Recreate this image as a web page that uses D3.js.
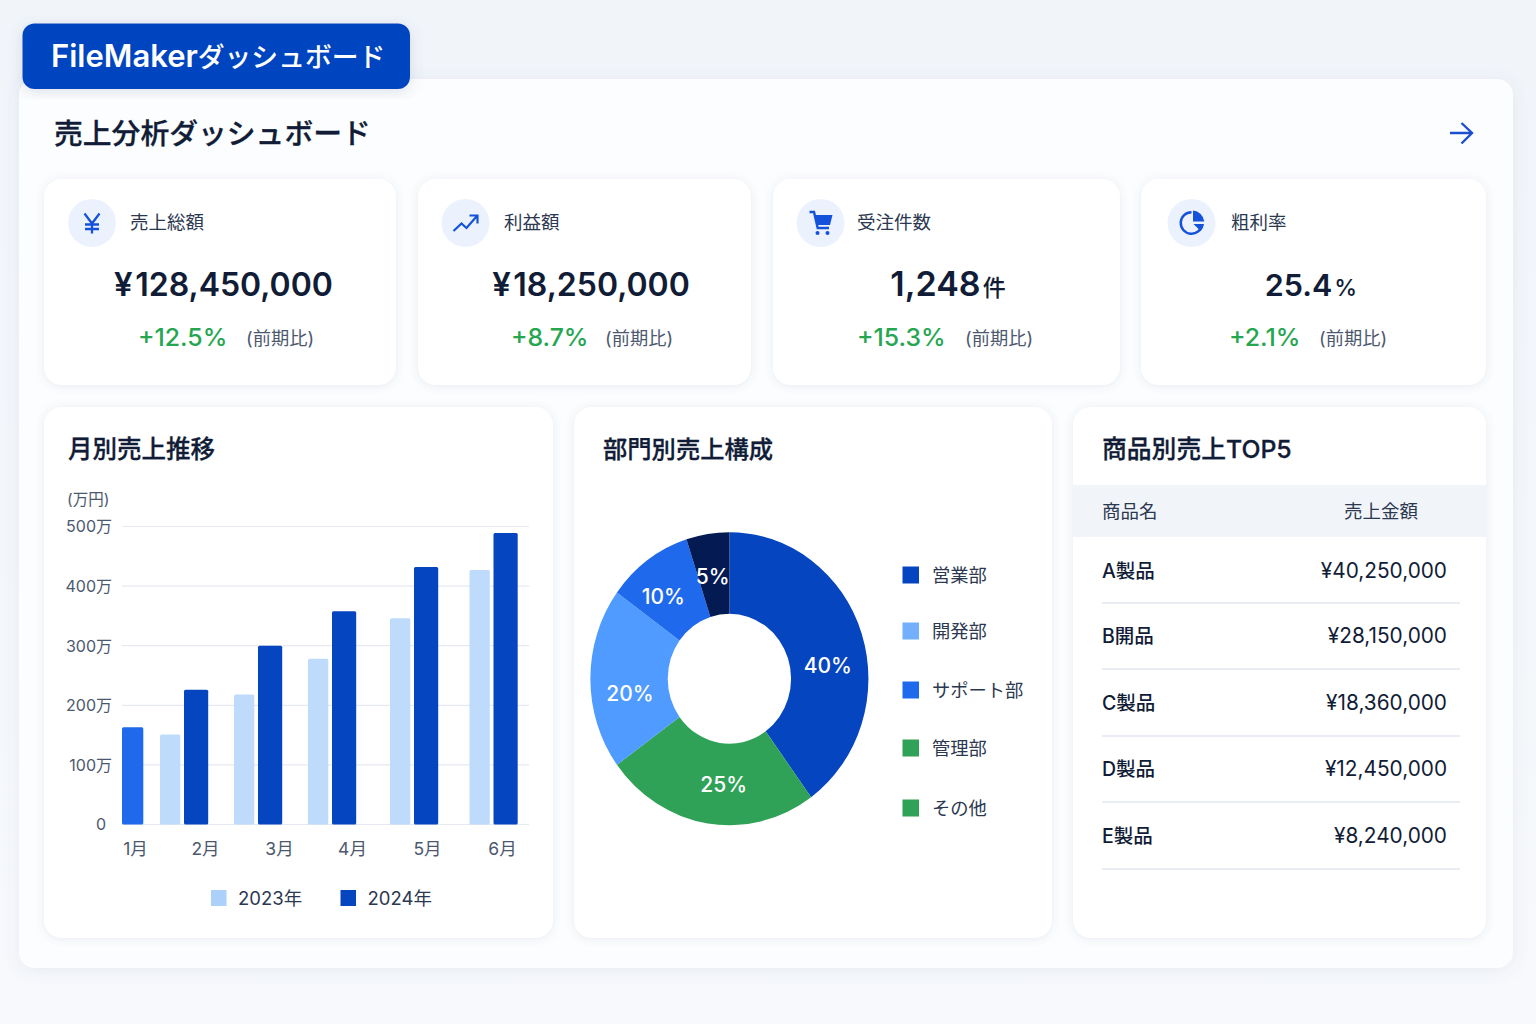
<!DOCTYPE html>
<html lang="ja">
<head>
<meta charset="utf-8">
<title>FileMakerダッシュボード</title>
<script src="https://cdn.jsdelivr.net/npm/d3@7/dist/d3.min.js"></script>
<style>
  html, body { margin: 0; padding: 0; background: #f4f7fb; }
  svg { display: block; }
  text { font-family: Inter, "Noto Sans CJK JP", sans-serif; }
</style>
</head>
<body>
<svg id="board" width="1536" height="1024" viewBox="0 0 1536 1024"></svg>
<script>
// ---- Values ----
const kpiLabels = ["売上総額", "利益額", "受注件数", "粗利率"];
const kpiCurrency = ["¥", "¥", "", ""];
const kpiValues = ["128,450,000", "18,250,000", "1,248", "25.4"];
const kpiUnits = ["", "", "件", "%"];
const kpiDeltas = ["+12.5%", "+8.7%", "+15.3%", "+2.1%"];

const months = ["1月", "2月", "3月", "4月", "5月", "6月"];
const sales2023 = [null, 151, 218, 278, 346, 427];
const sales2024 = [163, 226, 300, 358, 432, 489];
const yearLabels = ["2023年", "2024年"];
const yTicks = [0, 100, 200, 300, 400, 500];

const deptNames = ["営業部", "管理部", "開発部", "サポート部", "その他"];
const deptShares = [40, 25, 20, 10, 5];
const legendNames = ["営業部", "開発部", "サポート部", "管理部", "その他"];

const productNames = ["A製品", "B開品", "C製品", "D製品", "E製品"];
const productSales = ["¥40,250,000", "¥28,150,000", "¥18,360,000", "¥12,450,000", "¥8,240,000"];

// ---- Palette ----
const ink = "#111c36", body = "#2b3850", muted = "#4c586e", green = "#26a651";
const navy = "#0645c0", blue = "#1f69ec", sky = "#4f9bff", pale = "#bedbfb";
const sliceColors = [navy, "#30a257", sky, blue, "#031a52"];
const legendColors = [navy, "#73b0fb", blue, "#30a257", "#30a257"];

const svg = d3.select("#board");
const defs = svg.append("defs");

const bg = defs.append("linearGradient").attr("id", "pageBg")
  .attr("x1", 0).attr("y1", 0).attr("x2", 0).attr("y2", 1);
bg.append("stop").attr("offset", 0).attr("stop-color", "#f1f4f9");
bg.append("stop").attr("offset", 1).attr("stop-color", "#f7f9fc");

function shadow(id, dy, blur, opacity) {
  defs.append("filter").attr("id", id)
    .attr("x", "-10%").attr("y", "-10%").attr("width", "120%").attr("height", "125%")
    .append("feDropShadow")
    .attr("dx", 0).attr("dy", dy).attr("stdDeviation", blur)
    .attr("flood-color", "#5a6f96").attr("flood-opacity", opacity);
}
shadow("panelShadow", 2, 8, 0.10);
shadow("cardShadow", 1, 4, 0.13);
shadow("badgeShadow", 3, 7, 0.20);

const label = (parent, x, y, str, size, fill, weight = 400, anchor = "start") =>
  parent.append("text").attr("x", x).attr("y", y).text(str)
    .attr("font-size", size).attr("fill", fill)
    .attr("font-weight", weight).attr("text-anchor", anchor);

// Section headings sit between the medium and bold cuts, so the medium gets a hairline outline.
const heading = (x, y, str, size) =>
  label(svg, x, y, str, size, ink, 500).attr("stroke", ink).attr("stroke-width", 0.3);

const card = (x0, x1, y0, y1, r, fill, filter) =>
  svg.append("rect").attr("x", x0).attr("y", y0)
    .attr("width", x1 - x0).attr("height", y1 - y0)
    .attr("rx", r).attr("fill", fill).attr("filter", filter);

// ---- Page frame ----
svg.append("rect").attr("width", 1536).attr("height", 1024).attr("fill", "url(#pageBg)");
card(19, 1513, 79, 968, 16, "#fcfdfe", "url(#panelShadow)");
card(22.5, 410, 23.5, 89, 12, "#0645c0", "url(#badgeShadow)");
const badge = label(svg, 51, 67, "FileMaker", 31, "#ffffff", 600);
badge.append("tspan").attr("font-size", 26.8).attr("font-weight", 500).text("ダッシュボード");
heading(54, 144, "売上分析ダッシュボード", 28.8);

svg.append("path").attr("d", "M1450 133H1472M1461.5 123L1472 133L1461.5 143.5")
  .attr("fill", "none").attr("stroke", "#1b4fd0").attr("stroke-width", 2.4);

// ---- KPI cards ----
const kpiBoxes = [
  { x0: 44, x1: 396, icon: 92, name: 130, value: 223.5, size: 32, delta: 138, note: 246 },
  { x0: 418, x1: 751, icon: 465.5, name: 504, value: 591, size: 32, delta: 511, note: 605 },
  { x0: 773, x1: 1120, icon: 820.5, name: 857, value: 948, size: 34, delta: 857, note: 965 },
  { x0: 1141, x1: 1486, icon: 1191.5, name: 1231, value: 1311, size: 30.5, delta: 1229, note: 1319 }
];

const iconBlue = "#1552dc";
const kpiIcons = [
  g => g.append("path").attr("d", "M-7.5 -9.5L0 0.5L7.5 -9.5M0 0.5V10.5M-7 1.5H7M-7 6H7")
        .attr("fill", "none").attr("stroke", iconBlue).attr("stroke-width", 2.3),
  g => g.append("path").attr("d", "M-12 8L-4 0.5L1 5L11 -6.5M4 -7.5H12V0.5")
        .attr("fill", "none").attr("stroke", iconBlue).attr("stroke-width", 2.2),
  g => {
    g.append("path").attr("d", "M-11 -11H-6.5L-2.8 5H8.5").attr("fill", "none")
      .attr("stroke", iconBlue).attr("stroke-width", 2.4);
    g.append("path").attr("d", "M-6 -8H12L9.5 2H-3.8Z").attr("fill", iconBlue);
    g.selectAll("circle.wheel").data([-3, 7]).join("circle").attr("class", "wheel")
      .attr("cx", d => d).attr("cy", 10).attr("r", 2).attr("fill", iconBlue);
  },
  g => {
    g.append("path").attr("d", d3.arc()({ innerRadius: 9.5, outerRadius: 12, startAngle: Math.PI * 0.55, endAngle: Math.PI * 2 }))
      .attr("fill", iconBlue);
    g.append("path").attr("d", "M1.5 -12.5A12.5 12.5 0 0 1 12.8 -1.5H1.5Z").attr("fill", iconBlue);
    g.append("path").attr("d", "M2 1H12.5A12 12 0 0 1 9 8Z").attr("fill", iconBlue);
  }
];

kpiBoxes.forEach((b, i) => {
  card(b.x0, b.x1, 179, 385, 18, "#ffffff", "url(#cardShadow)");
  const icon = svg.append("g").attr("transform", `translate(${b.icon},223)`);
  icon.append("circle").attr("r", 24).attr("fill", "#ecf2fd");
  kpiIcons[i](icon);
  label(svg, b.name, 229, kpiLabels[i], 18.5, body, 400);
  const v = svg.append("text").attr("x", b.value).attr("y", 296)
    .attr("text-anchor", "middle").attr("fill", ink).attr("font-weight", 600)
    .attr("font-size", b.size);
  if (kpiCurrency[i]) {
    v.append("tspan").attr("font-size", 33).text(kpiCurrency[i]);
    v.append("tspan").attr("dx", 2.5).text(kpiValues[i]);
  } else {
    v.append("tspan").text(kpiValues[i]);
  }
  if (kpiUnits[i]) v.append("tspan").attr("font-size", 23).attr("font-weight", 500).attr("dx", 2).text(kpiUnits[i]);
  label(svg, b.delta, 346, kpiDeltas[i], 24.8, green, 500);
  label(svg, b.note, 345, "(前期比)", 18.3, muted, 400);
});

// ---- Lower cards ----
card(44, 553, 407, 938, 18, "#ffffff", "url(#cardShadow)");
card(574, 1052, 407, 938, 18, "#ffffff", "url(#cardShadow)");
card(1073, 1486, 407, 938, 18, "#ffffff", "url(#cardShadow)");
heading(68, 458, "月別売上推移", 24.5);
heading(603, 458, "部門別売上構成", 24.3);
heading(1102, 458, "商品別売上TOP5", 24.8);

// ---- Monthly bars ----
const y = d3.scaleLinear().domain([0, 500]).range([824.5, 526.5]);
const xLabel = d3.scaleOrdinal(months, [135, 205, 279, 352, 427, 502]);
const x2023 = d3.scaleOrdinal(months, [122, 160, 234, 308, 390, 469.5]);
const x2024 = d3.scaleOrdinal(months, [122, 184, 258, 332, 414, 493.5]);

const yAxis = d3.axisLeft(y).tickValues(yTicks)
  .tickSize(0).tickPadding(0)
  .tickFormat(d => d ? `${d}万` : "0");
const yG = svg.append("g").attr("transform", "translate(112,0)").call(yAxis);
yG.select(".domain").remove();
yG.attr("font-family", null);
yG.selectAll("text").attr("font-size", 16).attr("fill", muted)
  .attr("dy", "0.34em")
  .attr("x", d => d ? 0 : -6);

svg.append("g").selectAll("line").data(yTicks).join("line")
  .attr("x1", 122).attr("x2", 529)
  .attr("y1", d => y(d)).attr("y2", d => y(d))
  .attr("stroke", "#e6e9f1").attr("stroke-width", 1.2);

label(svg, 67, 505, "(万円)", 15.5, muted);

const bars = (values, xScale, width, colorOf) =>
  svg.append("g").selectAll("rect")
    .data(months.map((m, i) => ({ m, v: values[i], i })).filter(d => d.v !== null))
    .join("rect")
    .attr("x", d => xScale(d.m)).attr("width", d => width(d))
    .attr("y", d => y(d.v)).attr("height", d => y(0) - y(d.v))
    .attr("rx", 1.5).attr("fill", colorOf);

bars(sales2023, x2023, () => 20.3, () => pale);
bars(sales2024, x2024, d => d.i === 0 ? 21.3 : 24.2, d => d.i === 0 ? blue : navy);

const xAxis = d3.axisBottom(xLabel).tickSize(0).tickPadding(0);
const xG = svg.append("g").attr("transform", "translate(0,839)").call(xAxis);
xG.select(".domain").remove();
xG.attr("font-family", null);
xG.selectAll("text").attr("font-size", 17.5).attr("fill", muted).attr("dy", "0.9em").attr("y", 0);

const yearSwatches = [{ x: 211, c: "#abd1fb", t: 238 }, { x: 340.5, c: navy, t: 367.5 }];
yearSwatches.forEach((s, i) => {
  svg.append("rect").attr("x", s.x).attr("y", 890).attr("width", 15.5).attr("height", 16).attr("fill", s.c);
  label(svg, s.t, 905, yearLabels[i], 18.5, body);
});

// ---- Department donut ----
const pie = d3.pie().sort(null).value(d => d);
const arc = d3.arc().innerRadius(65).outerRadius(146.5);
const donut = svg.append("g").attr("transform", "translate(729.4,678.7) scale(0.949,1)");
const slices = pie(deptShares);
donut.selectAll("path").data(slices).join("path")
  .attr("d", arc)
  .attr("fill", (d, i) => sliceColors[i])
  .append("title").text((d, i) => deptNames[i]);

// Labels start from the slice centroid, then are eased into the clearest part of the wedge.
const labelNudge = [[3, 19], [10, 1], [1, 15], [-7, 3], [-1, 2]];
svg.append("g").selectAll("text").data(slices).join("text")
  .attr("text-anchor", "middle").attr("fill", "#ffffff")
  .attr("font-size", 21).attr("font-weight", 500).attr("dy", "0.36em")
  .attr("x", (d, i) => 729.4 + arc.centroid(d)[0] * 0.949 + labelNudge[i][0])
  .attr("y", (d, i) => 678.7 + arc.centroid(d)[1] + labelNudge[i][1])
  .text(d => `${d.value}%`);

const legendY = d3.scaleOrdinal(legendNames, [575, 631, 690, 748, 808]);
legendNames.forEach((name, i) => {
  svg.append("rect").attr("x", 902.5).attr("y", legendY(name) - 8.5)
    .attr("width", 16.5).attr("height", 17).attr("fill", legendColors[i]);
  label(svg, 932, legendY(name) + 7, name, 18.3, body);
});

// ---- Product table ----
svg.append("rect").attr("x", 1073).attr("y", 485).attr("width", 413).attr("height", 52).attr("fill", "#f1f5fa");
label(svg, 1102, 518, "商品名", 18.5, body);
label(svg, 1344, 518, "売上金額", 18.5, body);

const rowText = d3.scaleOrdinal(productNames, [578, 643, 710, 776, 843]);
const rowRule = d3.scaleOrdinal(productNames, [603, 669, 736, 802, 869]);
productNames.forEach((name, i) => {
  label(svg, 1102, rowText(name), name, 19.5, ink, 500);
  label(svg, 1447, rowText(name), productSales[i], 20.8, ink, 400, "end");
  svg.append("line").attr("x1", 1102).attr("x2", 1460)
    .attr("y1", rowRule(name)).attr("y2", rowRule(name))
    .attr("stroke", "#e3e8f0").attr("stroke-width", 1.3);
});
</script>
</body>
</html>
